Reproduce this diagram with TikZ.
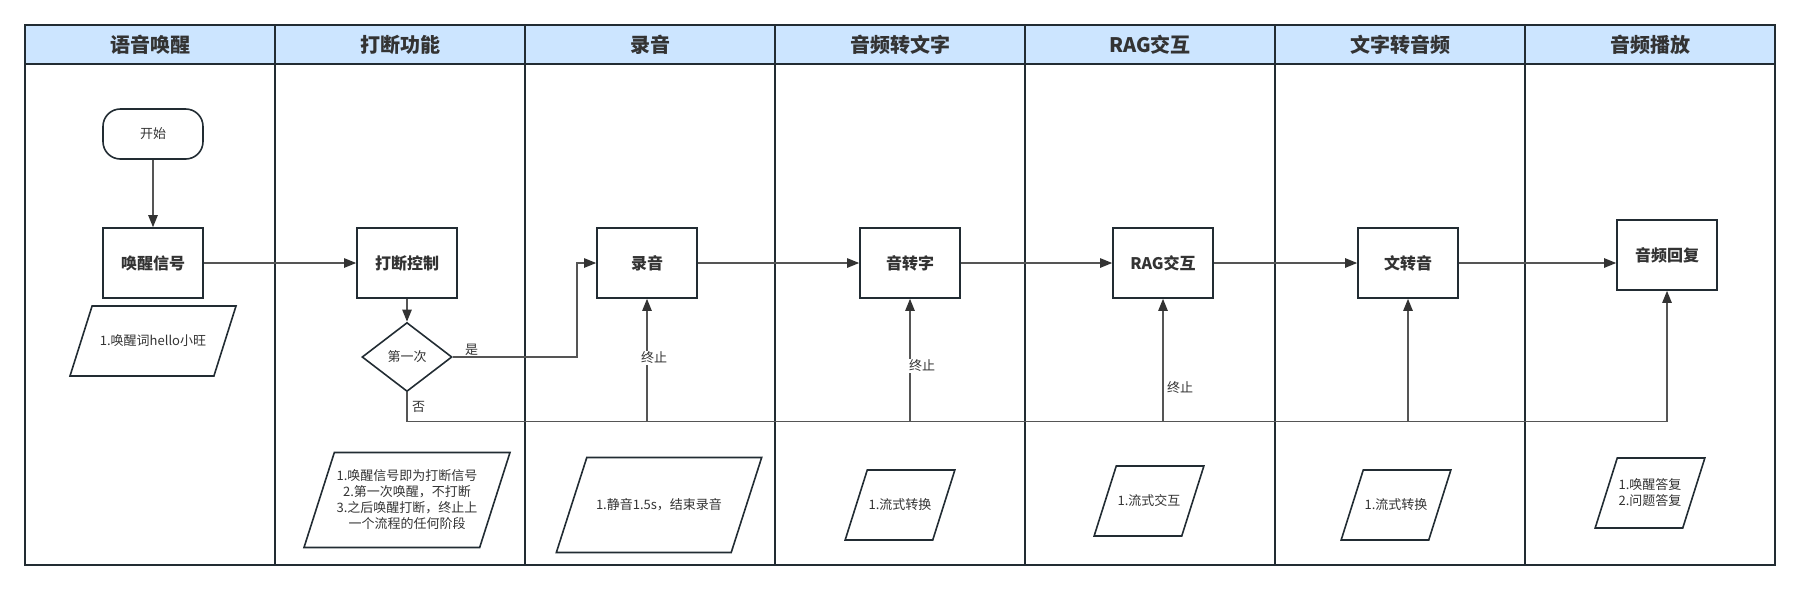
\documentclass[tikz,border=0pt]{standalone}
\usepackage{fontspec}
\setmainfont{Noto Sans CJK SC}
\usetikzlibrary{shapes.geometric,arrows.meta}

\definecolor{lanehead}{RGB}{204,229,255}
\definecolor{laneline}{RGB}{34,44,51}
\definecolor{flowline}{RGB}{85,85,85}
\definecolor{inkdark}{RGB}{51,51,51}

\tikzset{every picture/.style={line width=0.75pt}}
\tikzset{
  lanehd/.style={draw=laneline, line width=1.2pt, fill=lanehead, minimum width=187.5pt, minimum height=29.25pt, inner sep=0pt, font=\fontsize{15}{18}\selectfont\bfseries, text=inkdark},
  lanebd/.style={draw=laneline, line width=1.2pt, minimum width=187.5pt, minimum height=375.75pt, inner sep=0pt},
  procbox/.style={draw=laneline, line width=1.2pt, fill=white, minimum width=75pt, minimum height=52.5pt, font=\fontsize{12}{14}\selectfont\bfseries, text=inkdark},
  startbox/.style={draw=laneline, line width=1.2pt, rounded corners=13pt, minimum width=75pt, minimum height=37.5pt, font=\fontsize{9.75}{12}\selectfont, text=inkdark},
  decbox/.style={diamond, draw=laneline, line width=1.2pt, minimum width=67.5pt, minimum height=51.75pt, inner sep=0pt, font=\fontsize{9.75}{12}\selectfont, text=inkdark},
  notebox/.style={trapezium, trapezium left angle=72, trapezium right angle=108, trapezium stretches body, draw=laneline, line width=1.2pt, inner xsep=1pt, align=center, font=\fontsize{9.75}{12}\selectfont, text=inkdark},
  flow/.style={draw=flowline, line width=1.1pt, -{Triangle[length=9pt,width=7pt,color=inkdark]}},
  flowlbl/.style={inner sep=1pt, fill=white, font=\fontsize{9.75}{12}\selectfont, text=inkdark}
}

\begin{document}
\begin{tikzpicture}[x=0.75pt,y=0.75pt,yscale=-1,xscale=1]
\useasboundingbox (0,0) rectangle (1800,590);

%Swim lanes
\node [lanebd] (lwake) at (150,314.5) {};
\node [lanebd] (lbrk) at (400,314.5) {};
\node [lanebd] (lrec) at (650,314.5) {};
\node [lanebd] (lstt) at (900,314.5) {};
\node [lanebd] (lrag) at (1150,314.5) {};
\node [lanebd] (ltts) at (1400,314.5) {};
\node [lanebd] (lplay) at (1650,314.5) {};
%Lane headers
\node [lanehd] (hwake) at (150,44.5) {语音唤醒};
\node [lanehd] (hbrk) at (400,44.5) {打断功能};
\node [lanehd] (hrec) at (650,44.5) {录音};
\node [lanehd] (hstt) at (900,44.5) {音频转文字};
\node [lanehd] (hrag) at (1150,44.5) {RAG交互};
\node [lanehd] (htts) at (1400,44.5) {文字转音频};
\node [lanehd] (hplay) at (1650,44.5) {音频播放};

%Flow steps
\node [startbox] (start) at (153,134) {开始};
\node [procbox] (wake) at (153,263) {唤醒信号};
\node [procbox] (brk) at (407,263) {打断控制};
\node [decbox] (first) at (407,357) {第一次};
\node [procbox] (rec) at (647,263) {录音};
\node [procbox] (stt) at (910,263) {音转字};
\node [procbox] (rag) at (1163,263) {RAG交互};
\node [procbox] (tts) at (1408,263) {文转音};
\node [procbox] (play) at (1667,255) {音频回复};

%Notes
\node [notebox, inner ysep=21pt, minimum width=124.5pt, minimum height=52.5pt] (nwake) at (153,341) {1.唤醒词hello小旺};
\node [notebox, inner ysep=12.5pt, minimum width=154.5pt, minimum height=71.25pt] (nbrk) at (407,500) {1.唤醒信号即为打断信号\\2.第一次唤醒，不打断\\3.之后唤醒打断，终止上\\一个流程的任何阶段};
\node [notebox, inner ysep=30.5pt, minimum width=154pt, minimum height=71.25pt] (nrec) at (659,505) {1.静音1.5s，结束录音};
\node [notebox, inner ysep=21pt, minimum width=75.5pt, minimum height=52.5pt] (nstt) at (900,505) {1.流式转换};
\node [notebox, inner ysep=21pt, minimum width=75pt, minimum height=52.5pt] (nrag) at (1149,501) {1.流式交互};
\node [notebox, inner ysep=21pt, minimum width=75.5pt, minimum height=52.5pt] (ntts) at (1396,505) {1.流式转换};
\node [notebox, inner ysep=15pt, minimum width=75pt, minimum height=52.5pt] (nplay) at (1650,493) {1.唤醒答复\\2.问题答复};

\coordinate (yesbend) at (577,263);
\coordinate (bus) at (0,421.7);

%Straight Lines
\draw [flow] (start) -- (wake);
\draw [flow] (wake) -- (brk);
\draw [flow] (brk) -- (first);
\draw [flow] (first.east) -| (yesbend) -- (rec.west);
\draw [flow] (first.south) |- (play.south |- bus) -- (play.south);
\draw [flow] (rec.south |- bus) -- (rec.south);
\draw [flow] (stt.south |- bus) -- (stt.south);
\draw [flow] (rag.south |- bus) -- (rag.south);
\draw [flow] (tts.south |- bus) -- (tts.south);
\draw [flow] (rec) -- (stt);
\draw [flow] (stt) -- (rag);
\draw [flow] (rag) -- (tts);
\draw [flow] (tts.east) -- (tts.east -| play.west);

% Text Node
\node [flowlbl, fill=none] (lblyes) at (471.5,350) {是};
\node [flowlbl, fill=none] (lblno) at (418.7,407) {否};
\node [flowlbl] (lblstop1) at (654,358) {终止};
\node [flowlbl] (lblstop2) at (922,366) {终止};
\node [flowlbl] (lblstop3) at (1180,388) {终止};

\end{tikzpicture}
\end{document}
